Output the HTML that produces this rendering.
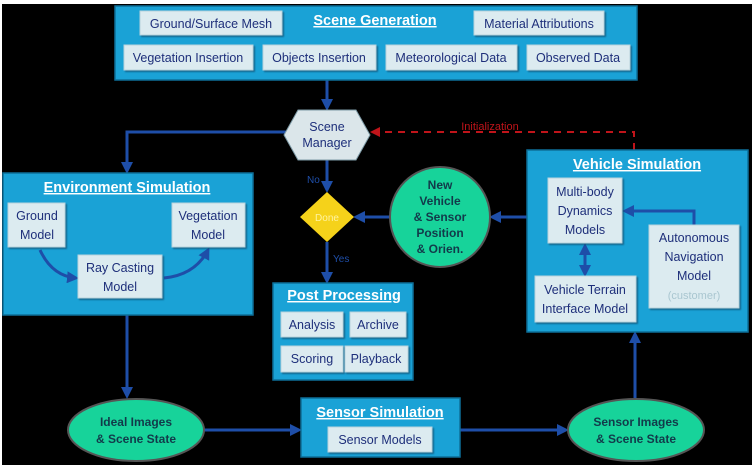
<!DOCTYPE html>
<html><head><meta charset="utf-8"><style>
html,body{margin:0;padding:0;background:#fff;}
svg{display:block;font-family:"Liberation Sans",Arial,sans-serif;}
.box{fill:#1aa2d6;stroke:#0d6f99;stroke-width:1.5;}
.item{fill:#dcebf0;stroke:#b9d3dc;stroke-width:1;filter:url(#sh);}
.t{font-size:12.5px;fill:#1e2f7a;text-anchor:middle;}
.h{font-size:14.5px;font-weight:bold;fill:#fff;text-anchor:middle;text-decoration:underline;}
.c{stroke:#1e4ea8;stroke-width:3;fill:none;}
.a{marker-end:url(#ar);}
.g{font-size:12px;font-weight:bold;fill:#123a4a;text-anchor:middle;}
</style></head><body>
<svg width="756" height="470" viewBox="0 0 756 470">
<defs>
<marker id="ar" markerWidth="4" markerHeight="4" refX="3" refY="2" orient="auto" markerUnits="strokeWidth"><path d="M0,0 L4,2 L0,4 z" fill="#1e4ea8"/></marker>
<marker id="arr" markerWidth="5" markerHeight="5" refX="4" refY="2.5" orient="auto" markerUnits="strokeWidth"><path d="M0,0 L5,2.5 L0,5 z" fill="#c0141a"/></marker>
<filter id="sh" x="-10%" y="-10%" width="130%" height="140%"><feDropShadow dx="1.5" dy="1.5" stdDeviation="0.8" flood-color="#0a4d6e" flood-opacity="0.7"/></filter>
</defs>
<rect x="2" y="4" width="750" height="461" fill="#000"/>
<!-- connectors -->
<path class="c a" d="M327 80 V108"/>
<path class="c a" d="M327 160 V190"/>
<path class="c a" d="M327 242 V281"/>
<path class="c a" d="M286 132 H127 V171"/>
<path class="c a" d="M527 217 H492"/>
<path class="c a" d="M390 217 H356"/>
<path d="M634 150 V132 H372" stroke="#c0141a" stroke-width="2" stroke-dasharray="7,6" fill="none" marker-end="url(#arr)"/>
<path class="c a" d="M127 315 V396"/>
<path class="c a" d="M203 430 H299"/>
<path class="c a" d="M460 430 H566"/>
<path class="c a" d="M635 398 V334"/>
<text x="307" y="183" font-size="10" fill="#1e4ea8">No</text>
<text x="333" y="262" font-size="10" fill="#1e4ea8">Yes</text>
<text x="490" y="130" font-size="11" fill="#c0141a" text-anchor="middle">Initialization</text>
<!-- Scene Generation -->
<rect class="box" x="115" y="6" width="522" height="74"/>
<rect class="item" x="140" y="11" width="142" height="24"/><text class="t" x="211" y="28">Ground/Surface Mesh</text>
<text class="h" x="375" y="25">Scene Generation</text>
<rect class="item" x="474" y="11" width="130" height="24"/><text class="t" x="539" y="28">Material Attributions</text>
<rect class="item" x="124" y="45" width="129" height="25"/><text class="t" x="188" y="62">Vegetation Insertion</text>
<rect class="item" x="263" y="45" width="113" height="25"/><text class="t" x="319" y="62">Objects Insertion</text>
<rect class="item" x="386" y="45" width="131" height="25"/><text class="t" x="451" y="62">Meteorological Data</text>
<rect class="item" x="527" y="45" width="103" height="25"/><text class="t" x="578" y="62">Observed Data</text>
<!-- Scene manager -->
<polygon points="284,135 298,110 356,110 370,135 356,160 298,160" fill="#dbe6ea" stroke="#7d9aa6"/>
<text class="t" x="327" y="131">Scene</text><text class="t" x="327" y="147">Manager</text>
<!-- diamond -->
<polygon points="327,192 354,217 327,242 300,217" fill="#f5d21a"/>
<text x="327" y="221" font-size="10" fill="#fff3a0" text-anchor="middle">Done</text>
<!-- Env Sim -->
<rect class="box" x="3" y="173" width="250" height="142"/>
<text class="h" x="127" y="192">Environment Simulation</text>
<path class="c a" d="M40 250 Q52 276 76 278"/><path class="c a" d="M164 278 Q195 275 208 250"/>
<rect class="item" x="8" y="203" width="57" height="44"/><text class="t" x="37" y="220">Ground</text><text class="t" x="37" y="239">Model</text>
<rect class="item" x="172" y="203" width="73" height="44"/><text class="t" x="208" y="220">Vegetation</text><text class="t" x="208" y="239">Model</text>
<rect class="item" x="78" y="255" width="84" height="43"/><text class="t" x="120" y="272">Ray Casting</text><text class="t" x="120" y="291">Model</text>
<!-- green circle -->
<circle cx="440" cy="217" r="50" fill="#17d39a" stroke="#555" stroke-width="2"/>
<text class="g" x="440" y="189">New</text><text class="g" x="440" y="205">Vehicle</text><text class="g" x="440" y="221">&amp; Sensor</text><text class="g" x="440" y="237">Position</text><text class="g" x="440" y="253">&amp; Orien.</text>
<!-- Vehicle Sim -->
<rect class="box" x="527" y="150" width="221" height="182"/>
<text class="h" x="637" y="169">Vehicle Simulation</text>
<path class="c a" d="M585 260 V246"/><path class="c a" d="M585 258 V274"/><path class="c a" d="M694 225 V211 H625"/>
<rect class="item" x="548" y="178" width="74" height="65"/><text class="t" x="585" y="196">Multi-body</text><text class="t" x="585" y="215">Dynamics</text><text class="t" x="585" y="234">Models</text>
<rect class="item" x="649" y="225" width="90" height="83"/><text class="t" x="694" y="242">Autonomous</text><text class="t" x="694" y="261">Navigation</text><text class="t" x="694" y="280">Model</text><text x="694" y="299" font-size="11" fill="#a9c6d0" text-anchor="middle">(customer)</text>
<rect class="item" x="535" y="276" width="101" height="46"/><text class="t" x="585" y="294">Vehicle Terrain</text><text class="t" x="585" y="313">Interface Model</text>
<!-- Post processing -->
<rect class="box" x="273" y="283" width="140" height="97"/>
<text class="h" x="344" y="300">Post Processing</text>
<rect class="item" x="281" y="312" width="62" height="25"/><text class="t" x="312" y="329">Analysis</text>
<rect class="item" x="350" y="312" width="56" height="25"/><text class="t" x="378" y="329">Archive</text>
<rect class="item" x="281" y="346" width="62" height="26"/><text class="t" x="312" y="363">Scoring</text>
<rect class="item" x="345" y="346" width="63" height="26"/><text class="t" x="376" y="363">Playback</text>
<!-- Sensor sim -->
<rect class="box" x="301" y="398" width="159" height="59"/>
<text class="h" x="380" y="417">Sensor Simulation</text>
<rect class="item" x="328" y="427" width="104" height="25"/><text class="t" x="380" y="444">Sensor Models</text>
<!-- ellipses -->
<ellipse cx="136" cy="430" rx="68" ry="31" fill="#17d39a" stroke="#555" stroke-width="2"/>
<text class="g" x="136" y="426">Ideal Images</text><text class="g" x="136" y="443">&amp; Scene State</text>
<ellipse cx="636" cy="430" rx="68" ry="31" fill="#17d39a" stroke="#555" stroke-width="2"/>
<text class="g" x="636" y="426">Sensor Images</text><text class="g" x="636" y="443">&amp; Scene State</text>
</svg>
</body></html>
